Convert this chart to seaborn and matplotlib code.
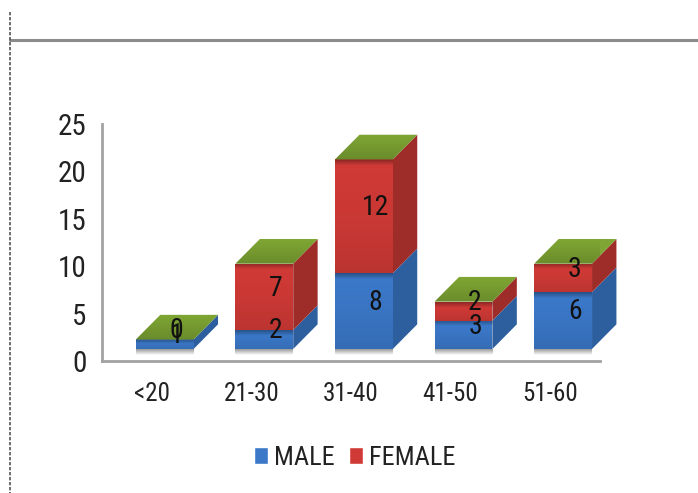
import matplotlib
matplotlib.use("Agg")
import matplotlib.pyplot as plt
import numpy as np
import pandas as pd
import seaborn as sns
from matplotlib.font_manager import fontManager
from matplotlib.lines import Line2D
from matplotlib.patches import Polygon, Rectangle

ages = ["<20", "21-30", "31-40", "41-50", "51-60"]
male = [1, 2, 8, 3, 6]
female = [0, 7, 12, 2, 3]
y_ticks = [0, 5, 10, 15, 20, 25]

BLUE = "#3b78c8"
BLUE_SIDE = "#2d5f9f"
RED = "#d03a36"
RED_SIDE = "#9e2d2a"
GREEN = "#7fa634"

# fake 3d box geometry, in data units
BAR_WIDTH = 0.58
SHIFT = 0.13
FLOOR = 1.27
DEPTH_X = 0.245
DEPTH_Y = 2.6

W, H = 698, 493

sns.set_theme(style="white")
names = {f.name for f in fontManager.ttflist}
narrow = [n for n in ["Roboto Condensed", "Barlow Condensed", "Archivo Narrow", "Roboto"] if n in names]
plt.rcParams["font.family"] = narrow[:1] + ["DejaVu Sans"]

df = pd.DataFrame({"age": ages, "MALE": male, "FEMALE": female})
df["start"] = FLOOR
df["mid"] = FLOOR + df["MALE"]
df["total"] = df["MALE"] + df["FEMALE"]

fig = plt.figure(figsize=(W / 100, H / 100), dpi=100, facecolor="white")
ax = fig.add_axes([102 / W, 1 - 361 / H, 498 / W, 237 / H])


def shade(x0, x1, y0, y1, stops, clip=None, z=3.2):
    # black overlay whose alpha follows stops, bottom to top
    pos = np.linspace(0, 1, 64)
    alpha = np.interp(pos, [s[0] for s in stops], [s[1] for s in stops])
    img = np.zeros((64, 1, 4))
    img[:, 0, 3] = alpha
    im = ax.imshow(img, extent=(x0, x1, y0, y1), origin="lower", aspect="auto",
                   zorder=z, interpolation="bilinear")
    if clip is not None:
        im.set_clip_path(clip)
    else:
        im.set_clip_on(False)


def draw_segment(y_col, base_col, color, side_color):
    sns.barplot(data=df, x="age", y=y_col, bottom=df[base_col].values, color=color,
                saturation=1, width=BAR_WIDTH, errorbar=None, ax=ax, zorder=3,
                linewidth=0)
    for rect in ax.containers[-1]:
        rect.set_x(rect.get_x() + SHIFT)
        x0, x1 = rect.get_x(), rect.get_x() + rect.get_width()
        y0, y1 = rect.get_y(), rect.get_y() + rect.get_height()
        if y1 - y0 <= 0:
            continue
        side = Polygon([(x1, y0), (x1 + DEPTH_X, y0 + DEPTH_Y),
                        (x1 + DEPTH_X, y1 + DEPTH_Y), (x1, y1)],
                       fc=side_color, lw=0, zorder=2.9, clip_on=False)
        ax.add_patch(side)
        # dark band along the top of the face, slightly darker at the foot
        band = min(0.6 / (y1 - y0), 0.5)
        shade(x0, x1, y0, y1, [(0, 0.1), (0.5, 0.03), (1 - band, 0), (1, 0.32)], clip=rect)


draw_segment("MALE", "start", BLUE, BLUE_SIDE)
draw_segment("FEMALE", "mid", RED, RED_SIDE)

for i, row in df.iterrows():
    x0 = i - BAR_WIDTH / 2 + SHIFT
    x1 = x0 + BAR_WIDTH
    top = FLOOR + row["total"]
    lid = Polygon([(x0, top), (x1, top), (x1 + DEPTH_X, top + DEPTH_Y), (x0 + DEPTH_X, top + DEPTH_Y)],
                  fc=GREEN, lw=0, zorder=3.5, clip_on=False)
    ax.add_patch(lid)
    shade(x0, x1 + DEPTH_X, top, top + DEPTH_Y, [(0, 0.16), (1, 0)], clip=lid, z=3.6)
    # soft shadow under the front face
    shade(x0, x1, FLOOR - 0.6, FLOOR, [(0, 0), (1, 0.4)], z=2.5)
    # value labels float at the middle of the box depth
    lx = i + 0.245
    ax.text(lx, FLOOR + row["MALE"] / 2 + 0.92, str(row["MALE"]), ha="center", va="center",
            fontsize=20, color="#111111", zorder=6)
    ax.text(lx, FLOOR + row["MALE"] + row["FEMALE"] / 2 + 0.92, str(row["FEMALE"]), ha="center",
            va="center", fontsize=20, color="#111111", zorder=6)

ax.set_xlim(-0.5, 4.5)
ax.set_ylim(0, 25)
ax.set_yticks(y_ticks)
ax.set_xlabel("")
ax.set_ylabel("")
ax.tick_params(axis="y", length=0, pad=11, labelsize=21, labelcolor="#222222")
ax.tick_params(axis="x", length=0, pad=15, labelsize=18, labelcolor="#222222")
sns.despine(ax=ax)
for s in ["left", "bottom"]:
    ax.spines[s].set_color("#a2a2a2")
    ax.spines[s].set_linewidth(2)

handles = [Rectangle((0, 0), 1, 1, fc=BLUE), Rectangle((0, 0), 1, 1, fc=RED)]
fig.legend(handles, ["MALE", "FEMALE"], loc="center", bbox_to_anchor=(355 / W, 1 - 458 / H),
           ncol=2, frameon=False, fontsize=19, handlelength=0.53, handleheight=0.6,
           handletextpad=0.22, columnspacing=0.55, labelcolor="#222222")

# slide frame lines
fig.add_artist(Line2D([10 / W, 1], [1 - 40 / H, 1 - 40 / H], color="#8c8c8c", lw=2.2))
fig.add_artist(Line2D([10 / W, 10 / W], [1 - 12 / H, 0], color="#555555", lw=1.2, ls=(0, (2, 1))))

fig.savefig("out.png", dpi=100)
